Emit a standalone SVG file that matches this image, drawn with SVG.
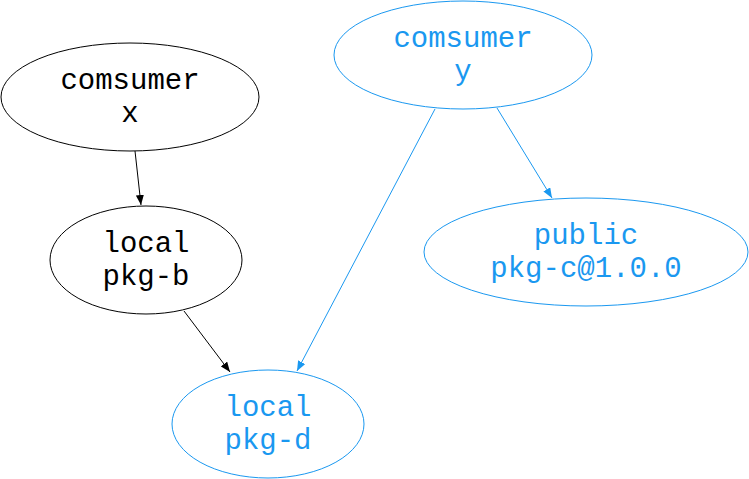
<svg xmlns="http://www.w3.org/2000/svg" width="749" height="479" viewBox="0 0 749 479">
<defs>
<style>
.n{fill:none;stroke-width:1}
.blk{stroke:#000}
.blu{stroke:#1a98f0}
text{font-family:"Liberation Mono","Courier New",monospace;font-size:29px;text-anchor:middle}
.tb{fill:#000}
.tu{fill:#1a98f0}
.e{fill:none;stroke-width:1}
</style>
<marker id="ab" viewBox="0 0 10 8" refX="10" refY="4" markerWidth="10" markerHeight="8" markerUnits="userSpaceOnUse" orient="auto"><path d="M0,0 L10,4 L0,8 z" fill="#000"/></marker>
<marker id="au" viewBox="0 0 10 8" refX="10" refY="4" markerWidth="10" markerHeight="8" markerUnits="userSpaceOnUse" orient="auto"><path d="M0,0 L10,4 L0,8 z" fill="#1a98f0"/></marker>
</defs>
<rect width="749" height="479" fill="#fff"/>
<g id="connectors">
<line class="e blk" x1="135" y1="151" x2="141" y2="205" marker-end="url(#ab)"/>
<line class="e blk" x1="184" y1="311" x2="230" y2="372" marker-end="url(#ab)"/>
<line class="e blu" x1="435" y1="109" x2="297" y2="371" marker-end="url(#au)"/>
<line class="e blu" x1="497" y1="108" x2="552" y2="198" marker-end="url(#au)"/>
</g>
<g id="consumer-x">
<ellipse class="n blk" cx="130" cy="97" rx="129" ry="54"/>
<text class="tb" x="130" y="89">comsumer</text>
<text class="tb" x="130" y="122">x</text>
</g>
<g id="local-pkg-b">
<ellipse class="n blk" cx="146" cy="260" rx="96" ry="54"/>
<text class="tb" x="146" y="252">local</text>
<text class="tb" x="146" y="285">pkg-b</text>
</g>
<g id="local-pkg-d">
<ellipse class="n blu" cx="268" cy="424" rx="96" ry="54"/>
<text class="tu" x="268" y="416">local</text>
<text class="tu" x="268" y="449">pkg-d</text>
</g>
<g id="consumer-y">
<ellipse class="n blu" cx="463" cy="55" rx="129" ry="54"/>
<text class="tu" x="463" y="47">comsumer</text>
<text class="tu" x="463" y="80">y</text>
</g>
<g id="public-pkg-c">
<ellipse class="n blu" cx="586" cy="252" rx="162" ry="54"/>
<text class="tu" x="586" y="244">public</text>
<text class="tu" x="586" y="277">pkg-c@1.0.0</text>
</g>
</svg>
